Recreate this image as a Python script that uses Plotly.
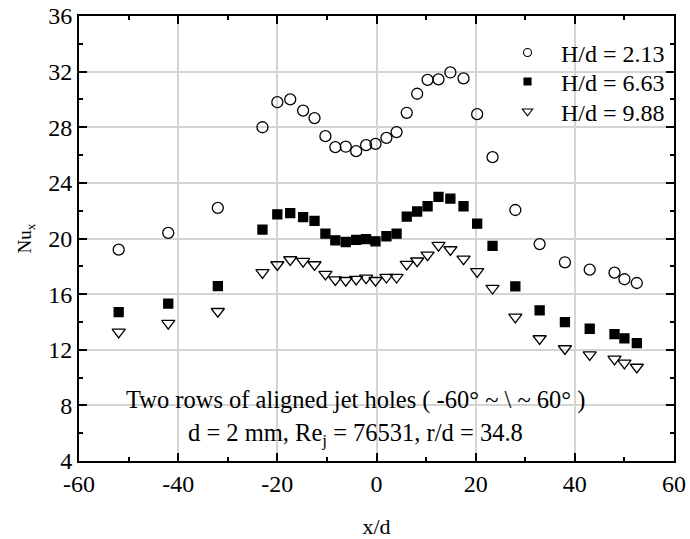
import plotly.graph_objects as go

# Data
x_213 = [-52, -42, -32, -23, -20, -17.4, -14.8, -12.5, -10.3, -8.3, -6.2, -4.1, -2.1, -0.2,
         2.0, 4.05, 6.1, 8.2, 10.3, 12.5, 14.9, 17.55, 20.3, 23.4, 28, 32.9, 38, 43, 48, 50, 52.5]
nu_213 = [19.2, 20.4, 22.2, 28.0, 29.8, 30.0, 29.2, 28.66, 27.36, 26.57, 26.6, 26.28, 26.71, 26.8,
          27.24, 27.65, 29.04, 30.41, 31.41, 31.44, 31.94, 31.51, 28.94, 25.85, 22.05,
          19.6, 18.29, 17.76, 17.55, 17.07, 16.8]

x_663 = x_213
nu_663 = [14.71, 15.32, 16.58, 20.64, 21.74, 21.82, 21.53, 21.27, 20.35, 19.87, 19.75, 19.9, 19.95, 19.8,
          20.16, 20.35, 21.58, 21.94, 22.32, 22.99, 22.87, 22.32, 21.07, 19.47, 16.56,
          14.83, 13.99, 13.51, 13.13, 12.82, 12.48]

x_988 = x_213
nu_988 = [13.27, 13.9, 14.76, 17.55, 18.12, 18.48, 18.36, 18.12, 17.43, 17.04, 16.99, 17.07, 17.16, 16.99,
          17.21, 17.21, 18.15, 18.39, 18.82, 19.51, 19.2, 18.53, 17.62, 16.42, 14.35,
          12.8, 12.08, 11.64, 11.33, 11.04, 10.75]

series_names = ["H/d = 2.13", "H/d = 6.63", "H/d = 9.88"]
x_ticks = [-60, -40, -20, 0, 20, 40, 60]
y_ticks = [4, 8, 12, 16, 20, 24, 28, 32, 36]

FONT = "Liberation Serif"

symbols = ["circle-open", "square", "triangle-down-open"]
plot_sizes = [11, 9, 11.5]
legend_sizes = [8, 7, 9]
legend_ids = ["legend", "legend2", "legend3"]
legend_rows_y = [0.917, 0.852, 0.785]
series = [(x_213, nu_213), (x_663, nu_663), (x_988, nu_988)]

fig = go.Figure()
for i, (xs, ys) in enumerate(series):
    fig.add_trace(go.Scatter(x=xs, y=ys, mode="markers", name=series_names[i], showlegend=False,
                             marker=dict(symbol=symbols[i], size=plot_sizes[i], color="black",
                                         line=dict(width=1.3, color="black"))))
for i in range(3):
    fig.add_trace(go.Scatter(x=[None], y=[None], mode="markers", name=series_names[i], showlegend=True,
                             legend=legend_ids[i],
                             marker=dict(symbol=symbols[i], size=legend_sizes[i], color="black",
                                         line=dict(width=1.1, color="black"))))

axis_common = dict(
    showline=True, linecolor="black", linewidth=2, mirror="allticks",
    ticks="inside", ticklen=8, tickwidth=1.5, tickcolor="black",
    showgrid=True, gridcolor="#d4d4d4", gridwidth=1.5, zeroline=False,
    tickfont=dict(family=FONT, size=24, color="black"), automargin=False,
)

fig.update_xaxes(range=[-60, 60], tickvals=x_ticks, ticktext=[str(v) for v in x_ticks],
                 minor=dict(dtick=10, ticks="inside", ticklen=4, tickwidth=1.5, tickcolor="black", showgrid=False),
                 title=dict(text="x/d", font=dict(family=FONT, size=22, color="black"), standoff=24),
                 **axis_common)
fig.update_yaxes(range=[4, 36], tickvals=y_ticks, ticktext=[str(v) for v in y_ticks],
                 minor=dict(dtick=2, ticks="inside", ticklen=4, tickwidth=1.5, tickcolor="black", showgrid=False),
                 title=dict(text="Nu<sub>x</sub>", font=dict(family=FONT, size=19, color="black"), standoff=12),
                 **axis_common)

fig.add_annotation(x=-4.3, y=8.42, xref="x", yref="y", showarrow=False,
                   text="Two rows of aligned jet holes ( -60° ~ \\ ~ 60° )",
                   font=dict(family=FONT, size=24.5, color="black"))
fig.add_annotation(x=-4.3, y=5.92, xref="x", yref="y", showarrow=False,
                   text="d = 2 mm, Re<sub>j</sub> = 76531, r/d = 34.8",
                   font=dict(family=FONT, size=24.5, color="black"))

legend_style = dict(xanchor="right", yanchor="middle", bgcolor="rgba(0,0,0,0)",
                    itemwidth=57, font=dict(family=FONT, size=24, color="black"))

fig.update_layout(
    width=690, height=539,
    margin=dict(l=79, r=16, t=16, b=78),
    plot_bgcolor="white", paper_bgcolor="white",
    legend=dict(x=0.9933, y=legend_rows_y[0], **legend_style),
    legend2=dict(x=0.9933, y=legend_rows_y[1], **legend_style),
    legend3=dict(x=0.9933, y=legend_rows_y[2], **legend_style),
    font=dict(family=FONT, color="black"),
)

fig.write_html("out.html")
